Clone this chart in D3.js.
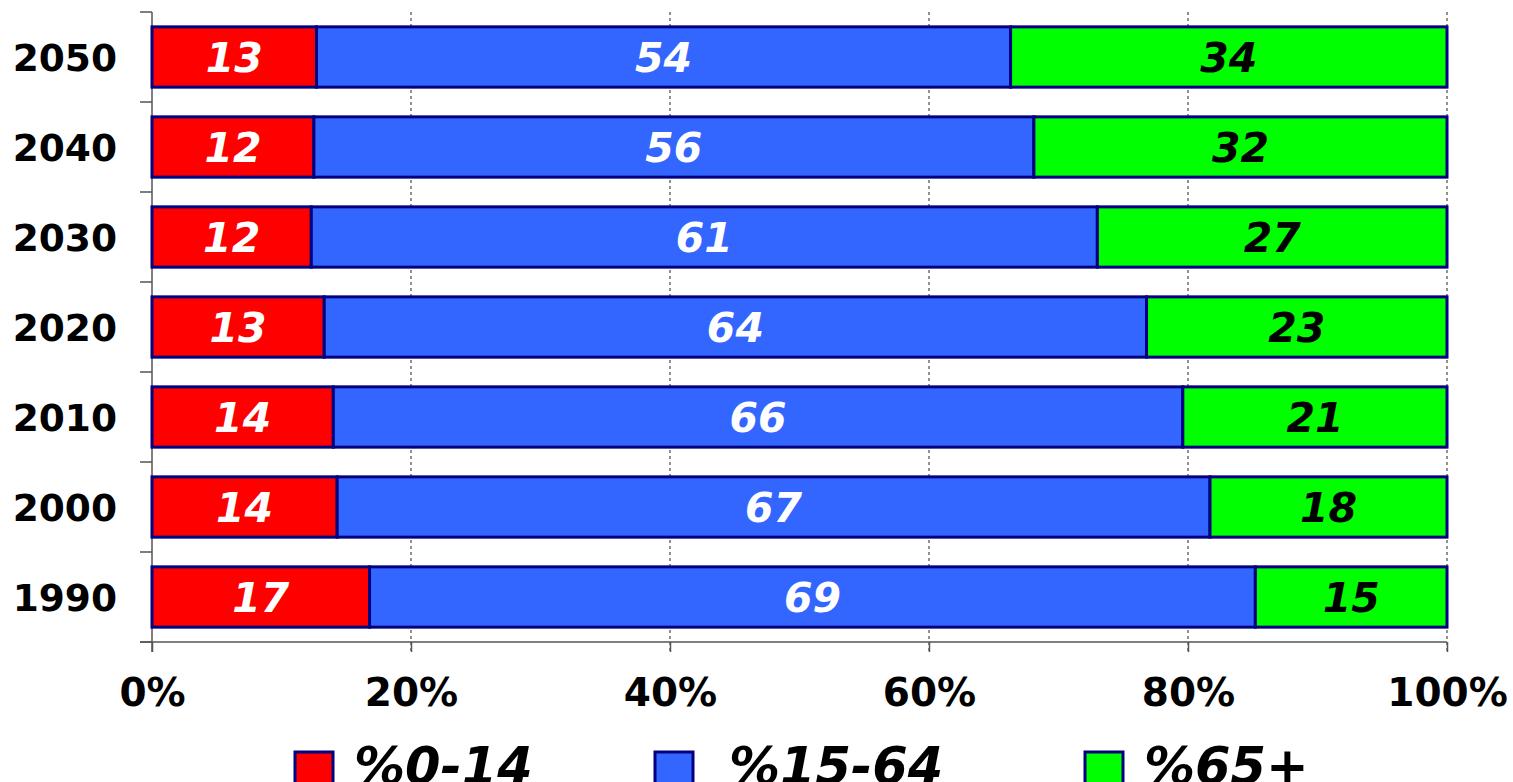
<!DOCTYPE html>
<html>
<head>
<meta charset="utf-8">
<script src="https://cdn.jsdelivr.net/npm/d3@7"></script>
<style>
  html, body { margin: 0; padding: 0; background: #fff; overflow: hidden; }
  svg { display: block; font-family: "DejaVu Sans", Verdana, sans-serif; }
</style>
</head>
<body>
<div id="chart"></div>
<script>
// data
const years = ["1990", "2000", "2010", "2020", "2030", "2040", "2050"];
// bar shares (%), measured from the segment lengths
const share0_14  = [16.8, 14.3, 14.0, 13.3, 12.3, 12.5, 12.7];
const share15_64 = [68.4, 67.4, 65.6, 63.5, 60.7, 55.6, 53.6];
const share65    = [14.8, 18.3, 20.4, 23.2, 27.0, 31.9, 33.7];
// numbers printed inside the bars
const label0_14  = [17, 14, 14, 13, 12, 12, 13];
const label15_64 = [69, 67, 66, 64, 61, 56, 54];
const label65    = [15, 18, 21, 23, 27, 32, 34];

const seriesKeys  = ["%0-14", "%15-64", "%65+"];
const seriesColor = ["#ff0000", "#3366ff", "#00ff00"];
const labelColor  = ["#fff", "#fff", "#000"];
const xTicks = [0, 0.2, 0.4, 0.6, 0.8, 1];

const width = 1513, height = 782;
const margin = {top: 12, left: 152, right: 66, bottom: 140};

const labels = {"%0-14": label0_14, "%15-64": label15_64, "%65+": label65};
const rows = years.map((y, i) => ({
  year: y,
  idx: i,
  "%0-14": share0_14[i],
  "%15-64": share15_64[i],
  "%65+": share65[i]
}));

const stacked = d3.stack()
  .keys(seriesKeys)
  .offset(d3.stackOffsetExpand)(rows);

const x = d3.scaleLinear()
  .domain([0, 1])
  .range([margin.left, width - margin.right]);

const y = d3.scaleBand()
  .domain(years.slice().reverse())   // 2050 on top
  .range([margin.top, height - margin.bottom])
  .paddingInner(0.33)
  .paddingOuter(0.165);

const svg = d3.select("#chart").append("svg")
  .attr("width", width)
  .attr("height", height);

const plotBottom = height - margin.bottom;

// dotted vertical grid lines
svg.append("g")
  .selectAll("line")
  .data(xTicks.slice(1))
  .join("line")
    .attr("x1", d => x(d)).attr("x2", d => x(d))
    .attr("y1", margin.top).attr("y2", plotBottom + 10)
    .attr("stroke", "#222")
    .attr("stroke-width", 1)
    .attr("stroke-dasharray", "3,3");

// y axis with ticks at category boundaries
const yAxis = svg.append("g");
yAxis.append("line")
  .attr("x1", margin.left).attr("x2", margin.left)
  .attr("y1", margin.top).attr("y2", plotBottom + 10)
  .attr("stroke", "#555").attr("stroke-width", 1.5);
const bounds = d3.range(years.length + 1).map(i => margin.top + i * y.step());
yAxis.selectAll(".bt")
  .data(bounds)
  .join("line")
    .attr("class", "bt")
    .attr("x1", margin.left - 12).attr("x2", margin.left)
    .attr("y1", d => d).attr("y2", d => d)
    .attr("stroke", "#555").attr("stroke-width", 1.5);

// x axis
const xAxis = svg.append("g").attr("transform", `translate(0,${plotBottom})`)
  .call(d3.axisBottom(x).tickValues(xTicks).tickFormat(d3.format(".0%")).tickSize(10).tickPadding(26));
xAxis.select(".domain").remove();
xAxis.selectAll(".tick line").attr("stroke", "#555").attr("stroke-width", 1.5);
xAxis.selectAll(".tick text")
  .attr("fill", "#000")
  .attr("font-size", 39)
  .attr("font-weight", "bold")
  .attr("font-family", "DejaVu Sans, Verdana, sans-serif");
xAxis.append("line")
  .attr("x1", margin.left - 12).attr("x2", x(1))
  .attr("stroke", "#555").attr("stroke-width", 1.5);

// year labels
svg.append("g")
  .selectAll("text")
  .data(years)
  .join("text")
    .attr("x", 117)
    .attr("y", d => y(d) + y.bandwidth() / 2)
    .attr("dy", "0.36em")
    .attr("text-anchor", "end")
    .attr("font-size", 37.5)
    .attr("font-weight", "bold")
    .text(d => d);

// stacked bars
const layers = svg.append("g")
  .selectAll("g")
  .data(stacked)
  .join("g")
    .attr("fill", (d, i) => seriesColor[i]);

layers.selectAll("rect")
  .data(d => d)
  .join("rect")
    .attr("x", d => x(d[0]))
    .attr("y", d => y(d.data.year))
    .attr("width", d => x(d[1]) - x(d[0]))
    .attr("height", y.bandwidth())
    .attr("stroke", "#000080")
    .attr("stroke-width", 3);

// value labels inside segments
stacked.forEach((layer, i) => {
  svg.append("g")
    .selectAll("text")
    .data(layer)
    .join("text")
      .attr("x", d => (x(d[0]) + x(d[1])) / 2)
      .attr("y", d => y(d.data.year) + y.bandwidth() / 2)
      .attr("dy", "0.36em")
      .attr("text-anchor", "middle")
      .attr("font-size", 41)
      .attr("font-weight", "bold")
      .attr("font-style", "italic")
      .attr("fill", labelColor[i])
      .text(d => labels[layer.key][d.data.idx]);
});

// legend (runs off the bottom edge like the original)
const legendX = [295, 655, 1085];
const legend = svg.append("g")
  .selectAll("g")
  .data(seriesKeys)
  .join("g")
    .attr("transform", (d, i) => `translate(${legendX[i]},752)`);
legend.append("rect")
  .attr("width", 38).attr("height", 40)
  .attr("fill", (d, i) => seriesColor[i])
  .attr("stroke", "#000080").attr("stroke-width", 3);
legend.append("text")
  .attr("x", (d, i) => i === 1 ? 74 : 59)
  .attr("y", 32)
  .attr("font-size", 51)
  .attr("font-weight", "bold")
  .attr("font-style", "italic")
  .text(d => d);
</script>
</body>
</html>
